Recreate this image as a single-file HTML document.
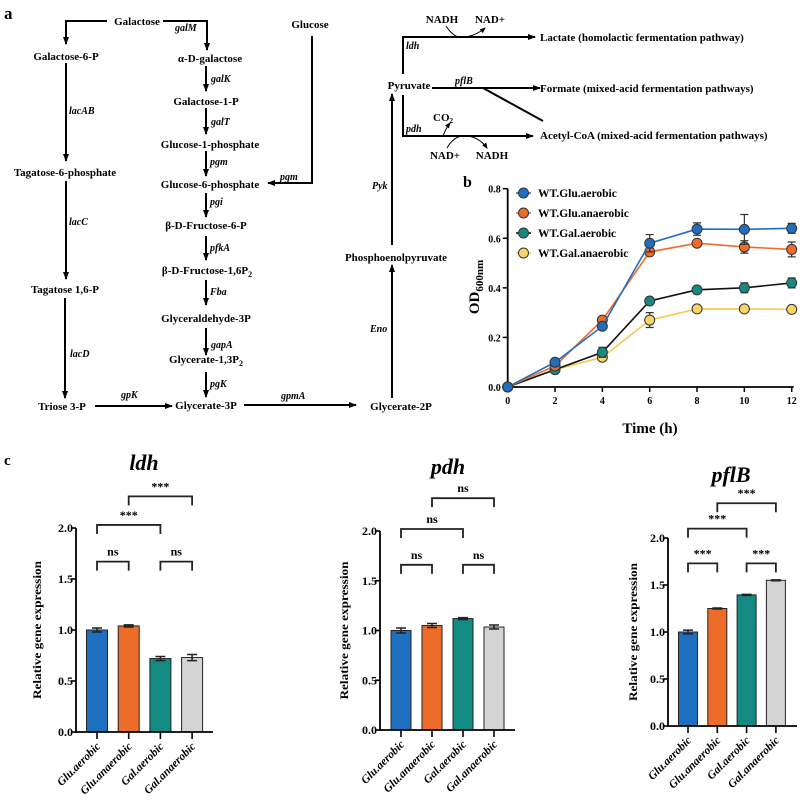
<!DOCTYPE html>
<html><head><meta charset="utf-8">
<style>
html,body{margin:0;padding:0;background:#fff;overflow:hidden}
svg{display:block;font-family:"Liberation Serif",serif}
.m{font-weight:bold;font-size:11px;text-anchor:middle}
.e{font-weight:bold;font-style:italic;font-size:10px}
</style></head>
<body>
<svg id="fig" width="800" height="809" viewBox="0 0 800 809" xmlns="http://www.w3.org/2000/svg">
<defs>
<marker id="ah" markerWidth="8" markerHeight="8" refX="7" refY="4" orient="auto" markerUnits="userSpaceOnUse"><path d="M0,1 L8,4 L0,7 Z" fill="#000"/></marker>
<marker id="sh" markerWidth="6" markerHeight="6" refX="5" refY="3" orient="auto" markerUnits="userSpaceOnUse"><path d="M0,0.5 L6,3 L0,5.5 Z" fill="#000"/></marker>
</defs>
<g stroke="#000" stroke-width="2" fill="none">
<text x="4" y="19" style="font-weight:bold;font-size:17px" fill="#000" stroke="none">a</text>
<path d="M107,21 H66 V44" marker-end="url(#ah)"/>
<path d="M163,21 H207 V50" marker-end="url(#ah)"/>
<path d="M206,66 V91" marker-end="url(#ah)"/>
<path d="M206,108 V134" marker-end="url(#ah)"/>
<path d="M206,151 V176" marker-end="url(#ah)"/>
<path d="M206,193 V217" marker-end="url(#ah)"/>
<path d="M206,236 V260" marker-end="url(#ah)"/>
<path d="M206,280 V305" marker-end="url(#ah)"/>
<path d="M206,328 V355" marker-end="url(#ah)"/>
<path d="M206,372 V397" marker-end="url(#ah)"/>
<path d="M312,36 V183 H268" marker-end="url(#ah)"/>
<path d="M66,63 V161" marker-end="url(#ah)"/>
<path d="M66,181 V279" marker-end="url(#ah)"/>
<path d="M65,298 V398" marker-end="url(#ah)"/>
<path d="M95,406 H172" marker-end="url(#ah)"/>
<path d="M244,405 H356" marker-end="url(#ah)"/>
<path d="M392,398 V265" marker-end="url(#ah)"/>
<path d="M392,245 V94" marker-end="url(#ah)"/>
<path d="M403,74 V37 H535" marker-end="url(#ah)"/>
<path d="M403,95 V136 H533" marker-end="url(#ah)"/>
<path d="M432,88 H540" marker-end="url(#ah)"/>
<path d="M483,88 L543,121"/>
<path d="M446,26 Q455,40 466,37 Q477,35 485,28" stroke-width="1" marker-end="url(#sh)"/>
<path d="M443,136 Q446,128 450,123" stroke-width="1" marker-end="url(#sh)"/>
<path d="M447,148 Q455,134 468,136 Q480,138 487,148" stroke-width="1" marker-end="url(#sh)"/>
</g>
<g fill="#000">
<text class="m" x="137" y="25">Galactose</text>
<text class="m" x="66" y="60">Galactose-6-P</text>
<text class="m" x="210" y="62">α-D-galactose</text>
<text class="m" x="206" y="105">Galactose-1-P</text>
<text class="m" x="210" y="148">Glucose-1-phosphate</text>
<text class="m" x="210" y="188">Glucose-6-phosphate</text>
<text class="m" x="206" y="229">β-D-Fructose-6-P</text>
<text class="m" x="207" y="274">β-D-Fructose-1,6P<tspan font-size="8" dy="3">2</tspan></text>
<text class="m" x="206" y="322">Glyceraldehyde-3P</text>
<text class="m" x="206" y="363">Glycerate-1,3P<tspan font-size="8" dy="3">2</tspan></text>
<text class="m" x="206" y="409">Glycerate-3P</text>
<text class="m" x="310" y="28">Glucose</text>
<text class="m" x="65" y="176">Tagatose-6-phosphate</text>
<text class="m" x="65" y="293">Tagatose 1,6-P</text>
<text class="m" x="62" y="410">Triose 3-P</text>
<text class="m" x="401" y="410">Glycerate-2P</text>
<text class="m" x="396" y="261">Phosphoenolpyruvate</text>
<text class="m" x="409" y="89">Pyruvate</text>
<text x="540" y="41" style="font-weight:bold;font-size:11px">Lactate (homolactic fermentation pathway)</text>
<text x="540" y="92" style="font-weight:bold;font-size:11px">Formate (mixed-acid fermentation pathways)</text>
<text x="540" y="139" style="font-weight:bold;font-size:11px">Acetyl-CoA (mixed-acid fermentation pathways)</text>
<text class="m" x="442" y="23" font-size="10">NADH</text>
<text class="m" x="490" y="23" font-size="10">NAD+</text>
<text class="m" x="445" y="159" font-size="10">NAD+</text>
<text class="m" x="492" y="159" font-size="10">NADH</text>
<text class="m" x="443" y="121" font-size="10">CO<tspan font-size="7" dy="2">2</tspan></text>
<text class="e" x="175" y="31">galM</text>
<text class="e" x="211" y="82">galK</text>
<text class="e" x="211" y="125">galT</text>
<text class="e" x="210" y="165">pgm</text>
<text class="e" x="280" y="180">pgm</text>
<text class="e" x="210" y="205">pgi</text>
<text class="e" x="210" y="251">pfkA</text>
<text class="e" x="210" y="295">Fba</text>
<text class="e" x="211" y="348">gapA</text>
<text class="e" x="210" y="387">pgK</text>
<text class="e" x="69" y="114">lacAB</text>
<text class="e" x="69" y="225">lacC</text>
<text class="e" x="70" y="357">lacD</text>
<text class="e" x="121" y="398">gpK</text>
<text class="e" x="281" y="399">gpmA</text>
<text class="e" x="370" y="332">Eno</text>
<text class="e" x="372" y="189">Pyk</text>
<text class="e" x="406" y="49">ldh</text>
<text class="e" x="455" y="84">pflB</text>
<text class="e" x="406" y="132">pdh</text>
</g>
<g id="lineChart"></g>
<text x="4" y="465" style="font-weight:bold;font-size:15px">c</text>
<g id="bars"></g>
</svg>
<script>
// ---- Panel b data ----
const times = [0, 2, 4, 6, 8, 10, 12];
const seriesNames = ["WT.Glu.aerobic", "WT.Glu.anaerobic", "WT.Gal.aerobic", "WT.Gal.anaerobic"];
const gluAerobic = [0, 0.10, 0.245, 0.58, 0.637, 0.636, 0.64];
const gluAerobicErr = [0, 0.005, 0.01, 0.035, 0.025, 0.06, 0.02];
const gluAnaerobic = [0, 0.085, 0.27, 0.545, 0.58, 0.565, 0.555];
const gluAnaerobicErr = [0, 0.005, 0.01, 0.01, 0.01, 0.025, 0.03];
const galAerobic = [0, 0.07, 0.14, 0.347, 0.392, 0.40, 0.42];
const galAerobicErr = [0, 0.005, 0.02, 0.01, 0.01, 0.02, 0.02];
const galAnaerobic = [0, 0.07, 0.12, 0.27, 0.315, 0.315, 0.313];
const galAnaerobicErr = [0, 0.005, 0.01, 0.03, 0.01, 0.01, 0.01];
const odTicks = [0, 0.2, 0.4, 0.6, 0.8];
const timeTicks = [0, 2, 4, 6, 8, 10, 12];

// ---- Panel c data ----
const groups = ["Glu.aerobic", "Glu.anaerobic", "Gal.aerobic", "Gal.anaerobic"];
const genes = ["ldh", "pdh", "pflB"];
const ldhVals = [1.0, 1.04, 0.72, 0.73];
const ldhErr = [0.02, 0.01, 0.02, 0.03];
const pdhVals = [1.0, 1.05, 1.12, 1.035];
const pdhErr = [0.025, 0.02, 0.01, 0.02];
const pflBVals = [1.0, 1.25, 1.395, 1.55];
const pflBErr = [0.02, 0.005, 0.005, 0.005];
const exprTicks = [0, 0.5, 1.0, 1.5, 2.0];
const ldhSig = ["ns", "ns", "***", "***"];
const pdhSig = ["ns", "ns", "ns", "ns"];
const pflBSig = ["***", "***", "***", "***"];
const ldhBracketLevels = [1.67, 1.67, 2.03, 2.31];
const pdhBracketLevels = [1.66, 1.66, 2.02, 2.33];
const pflBBracketLevels = [1.73, 1.73, 2.10, 2.37];
const bracketPairs = [[0,1],[2,3],[0,2],[1,3]];

const NS = "http://www.w3.org/2000/svg";
function mk(tag, attrs, parent, text) {
  const el = document.createElementNS(NS, tag);
  for (const k in attrs) el.setAttribute(k, attrs[k]);
  if (text !== undefined) el.textContent = text;
  parent.appendChild(el);
  return el;
}

// ---------- line chart ----------
(function(){
  const g = document.getElementById('lineChart');
  const X0 = 507.7, X1 = 791.7, Y0 = 387, Y1 = 188.7;
  const xs = t => X0 + (t - 0) / 12 * (X1 - X0);
  const ys = v => Y0 - v / 0.8 * (Y0 - Y1);
  let t = mk('text', {x:463, y:187, 'font-weight':'bold', 'font-size':16}, g, 'b');
  
  
  const ax = mk('path', {d:`M${X0},${Y1} V${Y0} H${X1+2}`, stroke:'#000', 'stroke-width':1.8, fill:'none'}, g);
  
  
  odTicks.forEach(v => {
    mk('line', {x1:X0-5, x2:X0, y1:ys(v), y2:ys(v), stroke:'#000', 'stroke-width':1.5}, g);
    const l = mk('text', {x:X0-7, y:ys(v)+4, 'text-anchor':'end', 'font-weight':'bold', 'font-size':10}, g, v.toFixed(1));
    
    
  });
  timeTicks.forEach(v => {
    mk('line', {x1:xs(v), x2:xs(v), y1:Y0, y2:Y0+5, stroke:'#000', 'stroke-width':1.5}, g);
    const l = mk('text', {x:xs(v), y:Y0+17, 'text-anchor':'middle', 'font-weight':'bold', 'font-size':10}, g, v);
    
    
  });
  const xt = mk('text', {x:650, y:433, 'text-anchor':'middle', 'font-weight':'bold', 'font-size':15}, g, 'Time (h)');
  
  
  const yt = mk('text', {x:0, y:0, 'text-anchor':'middle', 'font-weight':'bold', 'font-size':15, transform:'translate(479,287) rotate(-90)'}, g);
  yt.innerHTML = 'OD<tspan font-size="11" dy="4">600nm</tspan>';
  
  
  const series = [
    {v:galAnaerobic, e:galAnaerobicErr, line:'#f3c94f', fill:'#f8d369'},
    {v:galAerobic, e:galAerobicErr, line:'#111', fill:'#168a80'},
    {v:gluAnaerobic, e:gluAnaerobicErr, line:'#ee6c2a', fill:'#ee6c2a'},
    {v:gluAerobic, e:gluAerobicErr, line:'#1f6fc0', fill:'#1f6fc0'}
  ];
  series.forEach((s, si) => {
    const sg = mk('g', {}, g);
    
    
    const d = s.v.map((v,i) => (i?'L':'M') + xs(times[i]) + ',' + ys(v)).join(' ');
    mk('path', {d, stroke:s.line, 'stroke-width':1.6, fill:'none'}, sg);
    s.v.forEach((v,i) => {
      const x = xs(times[i]);
      if (s.e[i] > 0.008) {
        mk('path', {d:`M${x},${ys(v+s.e[i])} V${ys(v-s.e[i])} M${x-4},${ys(v+s.e[i])} H${x+4} M${x-4},${ys(v-s.e[i])} H${x+4}`, stroke:'#333', 'stroke-width':1.2, fill:'none'}, sg);
      }
      const c = mk('circle', {cx:x, cy:ys(v), r:5, fill:s.fill, stroke:'#333', 'stroke-width':1}, sg);
      
      
    });
  });
  const legend = [
    {line:'#1f6fc0', fill:'#1f6fc0'}, {line:'#ee6c2a', fill:'#ee6c2a'},
    {line:'#111', fill:'#168a80'}, {line:'#f3c94f', fill:'#f8d369'}
  ];
  legend.forEach((l, i) => {
    const y = 193 + i * 20;
    const lg = mk('g', {}, g);
    
    
    mk('line', {x1:516, x2:531, y1:y, y2:y, stroke:l.line, 'stroke-width':1.6}, lg);
    mk('circle', {cx:523.5, cy:y, r:5, fill:l.fill, stroke:'#333', 'stroke-width':1}, lg);
    mk('text', {x:538, y:y+4, 'font-weight':'bold', 'font-size':11.5}, lg, seriesNames[i]);
  });
})();

// ---------- bar charts ----------
(function(){
  const root = document.getElementById('bars');
  const colors = ['#1f6fc0', '#ee6c2a', '#138a82', '#d4d4d4'];
  const panels = [
    {name:genes[0], vals:ldhVals, err:ldhErr, sig:ldhSig, lev:ldhBracketLevels, ax:76, y0:732, y2:528, xend:213, b0:97, step:31.7, bw:21, title:[144,470], ylab:37},
    {name:genes[1], vals:pdhVals, err:pdhErr, sig:pdhSig, lev:pdhBracketLevels, ax:380, y0:730, y2:531, xend:515, b0:401, step:31, bw:20, title:[448,474], ylab:344},
    {name:genes[2], vals:pflBVals, err:pflBErr, sig:pflBSig, lev:pflBBracketLevels, ax:668, y0:726, y2:538, xend:797, b0:688, step:29.3, bw:19, title:[731,482], ylab:633}
  ];
  panels.forEach(p => {
    const g = mk('g', {}, root);
    
    
    const ys = v => p.y0 - v / 2 * (p.y0 - p.y2);
    const xs = i => p.b0 + i * p.step;
    const tt = mk('text', {x:p.title[0], y:p.title[1], 'text-anchor':'middle', 'font-weight':'bold', 'font-style':'italic', 'font-size':22}, g, p.name);
    
    
    p.vals.forEach((v, i) => {
      const b = mk('rect', {x:xs(i)-p.bw/2, y:ys(v), width:p.bw, height:p.y0-ys(v), fill:colors[i], stroke:'#222', 'stroke-width':1}, g);
      
      
      const e = p.err[i];
      mk('path', {d:`M${xs(i)},${ys(v+e)} V${ys(v-e)} M${xs(i)-5},${ys(v+e)} H${xs(i)+5} M${xs(i)-5},${ys(v-e)} H${xs(i)+5}`, stroke:'#222', 'stroke-width':1.5, fill:'none'}, g);
      mk('line', {x1:xs(i), x2:xs(i), y1:p.y0, y2:p.y0+7, stroke:'#000', 'stroke-width':1.6}, g);
      const xl = mk('text', {x:0, y:0, 'text-anchor':'end', 'font-weight':'bold', 'font-style':'italic', 'font-size':11.5, transform:`translate(${xs(i)+4},${p.y0+15}) rotate(-45)`}, g, groups[i]);
      
      
    });
    const axis = mk('path', {d:`M${p.ax},${p.y2} V${p.y0} H${p.xend}`, stroke:'#000', 'stroke-width':1.8, fill:'none'}, g);
    
    
    exprTicks.forEach(v => {
      mk('line', {x1:p.ax-5, x2:p.ax, y1:ys(v), y2:ys(v), stroke:'#000', 'stroke-width':1.6}, g);
      const l = mk('text', {x:p.ax-3, y:ys(v)+4, 'text-anchor':'end', 'font-weight':'bold', 'font-size':12}, g, v.toFixed(1));
      
      
    });
    const yl = mk('text', {x:0, y:0, 'text-anchor':'middle', 'font-weight':'bold', 'font-size':12, textLength:138, lengthAdjust:'spacingAndGlyphs', transform:`translate(${p.ylab+4},${(p.y0+p.y2)/2}) rotate(-90)`}, g, 'Relative gene expression');
    
    
    bracketPairs.forEach((pr, k) => {
      const y = ys(p.lev[k]);
      const a = xs(pr[0]), b = xs(pr[1]);
      const br = mk('path', {d:`M${a},${y+9} V${y} H${b} V${y+9}`, stroke:'#222', 'stroke-width':1.8, fill:'none'}, g);
      
      
      const s = mk('text', {x:(a+b)/2, y:y-6, 'text-anchor':'middle', 'font-weight':'bold', 'font-size':12}, g, p.sig[k]);
      
      
    });
  });
})();
</script>
</body></html>
